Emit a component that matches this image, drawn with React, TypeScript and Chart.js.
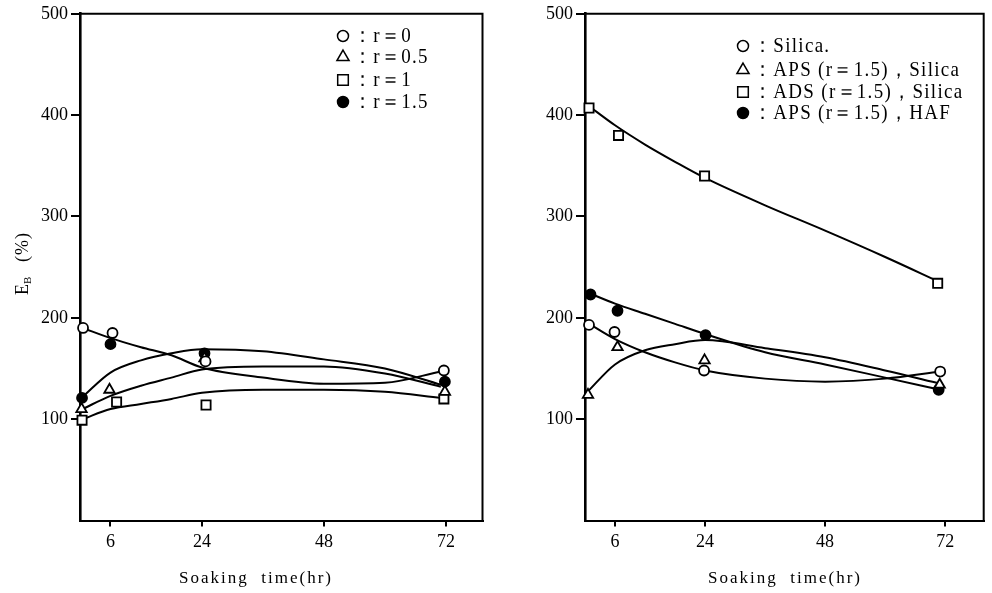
import React, { useEffect, useRef } from 'react';
import { Chart, registerables } from 'chart.js';

Chart.register(...registerables);

// ---------- shared axis data ----------
const X_TICKS = [6, 24, 48, 72];
const Y_TICKS = [100, 200, 300, 400, 500];
const X_TITLE = 'Soaking  time(hr)';

// ---------- left panel: markers ----------
const L_R0_T = [0.6, 6.4, 24.7, 71.6];
const L_R0_V = [190, 185, 157, 148];
const L_R05_T = [0.3, 5.8, 24.5, 71.8];
const L_R05_V = [110, 129, 160, 127];
const L_R1_T = [0.4, 7.2, 24.8, 71.6];
const L_R1_V = [99, 117, 114, 120];
const L_R15_T = [0.4, 6.0, 24.5, 71.8];
const L_R15_V = [121, 174, 165, 137];

// ---------- left panel: fitted curves ----------
const L_CURVE_T = [0.5, 6, 12, 18, 24, 36, 48, 60, 71];
const L_R0_CURVE = [190, 180, 171, 163, 151, 141, 135, 136, 147];
const L_R05_CURVE = [110, 123, 133, 141, 149, 152, 152, 145, 132];
const L_R1_CURVE = [100, 110, 115, 120, 126, 129, 129, 127, 121];
const L_R15_CURVE = [122, 146, 158, 165, 169, 167, 159, 150, 134];

const L_LABELS = ['：r＝0', '：r＝0.5', '：r＝1', '：r＝1.5'];

// ---------- right panel: markers ----------
const R_SIL_T = [0.8, 5.9, 23.8, 71];
const R_SIL_V = [193, 186, 148, 147];
const R_APS_T = [0.6, 6.5, 23.9, 70.9];
const R_APS_V = [124, 171, 158, 134];
const R_ADS_T = [0.8, 6.7, 23.9, 70.5];
const R_ADS_V = [407, 380, 340, 234];
const R_HAF_T = [1.1, 6.5, 24.1, 70.7];
const R_HAF_V = [223, 207, 183, 129];

// ---------- right panel: fitted curves ----------
const R_CURVE_T = [0.5, 6, 12, 18, 24, 36, 48, 60, 71];
const R_SIL_CURVE = [195, 179, 166, 156, 148, 140, 137, 140, 147];
const R_APS_CURVE = [127, 154, 168, 174, 178, 170, 161, 148, 135];
const R_ADS_CURVE = [410, 390, 371, 354, 338, 311, 286, 260, 235];
const R_HAF_CURVE = [225, 214, 204, 194, 184, 166, 154, 141, 129];

const R_LABELS = ['：Silica.', '：APS (r＝1.5)，Silica', '：ADS (r＝1.5)，Silica', '：APS (r＝1.5)，HAF'];

type Marker = { style: 'circle' | 'triangle' | 'rect'; filled: boolean; radius: number };
const MARKERS: Marker[] = [
  { style: 'circle', filled: false, radius: 5 },
  { style: 'triangle', filled: false, radius: 6 },
  { style: 'rect', filled: false, radius: 6.5 },
  { style: 'circle', filled: true, radius: 5 },
];

const SERIF = '"Liberation Serif", "DejaVu Serif", serif';

const pts = (t: number[], v: number[]) => t.map((x, i) => ({ x, y: v[i] }));

function curveDs(t: number[], v: number[]) {
  return {
    data: pts(t, v),
    borderColor: '#000',
    borderWidth: 2,
    pointRadius: 0,
    cubicInterpolationMode: 'monotone',
    fill: false,
    order: 2,
  };
}

function markerDs(t: number[], v: number[], m: Marker) {
  return {
    data: pts(t, v),
    showLine: false,
    pointStyle: m.style,
    pointRadius: m.radius,
    pointBackgroundColor: m.filled ? '#000' : '#fff',
    pointBorderColor: '#000',
    pointBorderWidth: 1.8,
    clip: false,
    order: 1,
  };
}

function drawMarker(ctx: CanvasRenderingContext2D, x: number, y: number, m: Marker) {
  ctx.save();
  ctx.beginPath();
  const r = m.radius;
  if (m.style === 'circle') {
    ctx.arc(x, y, r, 0, Math.PI * 2);
  } else if (m.style === 'triangle') {
    for (let k = 0; k < 3; k++) {
      const a = -Math.PI / 2 + (k * 2 * Math.PI) / 3;
      const px = x + Math.cos(a) * r;
      const py = y + Math.sin(a) * r;
      if (k === 0) ctx.moveTo(px, py);
      else ctx.lineTo(px, py);
    }
    ctx.closePath();
  } else {
    const s = Math.SQRT1_2 * r;
    ctx.rect(x - s, y - s, 2 * s, 2 * s);
  }
  ctx.fillStyle = m.filled ? '#000' : '#fff';
  ctx.fill();
  ctx.lineWidth = 1.5;
  ctx.strokeStyle = '#000';
  ctx.stroke();
  ctx.restore();
}

type PanelCfg = {
  yWidth: number;
  padRight: number;
  xMax: number;
  datasets: any[];
  labels: string[];
  legendX: number;
  legendY: number[];
  titleX: number;
  showYTitle: boolean;
};

function makeChart(canvas: HTMLCanvasElement, cfg: PanelCfg) {
  const decor = {
    id: 'decor',
    afterDraw(chart: any) {
      const ctx: CanvasRenderingContext2D = chart.ctx;
      const a = chart.chartArea;
      ctx.save();
      // frame top & right
      ctx.strokeStyle = '#000';
      ctx.lineWidth = 2;
      ctx.beginPath();
      ctx.moveTo(a.left, a.top);
      ctx.lineTo(a.right, a.top);
      ctx.lineTo(a.right, a.bottom);
      ctx.stroke();

      // x title
      ctx.fillStyle = '#000';
      ctx.font = `17px ${SERIF}`;
      (ctx as any).letterSpacing = '2px';
      ctx.textAlign = 'center';
      ctx.textBaseline = 'middle';
      ctx.fillText(X_TITLE, cfg.titleX, 579);

      // y title with subscript
      if (cfg.showYTitle) {
        ctx.save();
        ctx.translate(23, 295);
        ctx.rotate(-Math.PI / 2);
        (ctx as any).letterSpacing = '0px';
        ctx.textAlign = 'left';
        ctx.textBaseline = 'middle';
        ctx.font = `18px ${SERIF}`;
        ctx.fillText('E', 0, 0);
        const wE = ctx.measureText('E').width;
        ctx.font = `11px ${SERIF}`;
        ctx.fillText('B', wE, 5);
        ctx.font = `18px ${SERIF}`;
        (ctx as any).letterSpacing = '1px';
        ctx.fillText('(%)', 33, 0);
        ctx.restore();
      }

      // legend
      (ctx as any).letterSpacing = '1.3px';
      ctx.font = `19px ${SERIF}`;
      ctx.textAlign = 'left';
      ctx.textBaseline = 'middle';
      cfg.labels.forEach((lab, i) => {
        const y = cfg.legendY[i];
        drawMarker(ctx, cfg.legendX, y, {
          ...MARKERS[i],
          radius: MARKERS[i].style === 'rect' ? 7.5 : MARKERS[i].style === 'triangle' ? 7 : 5.5,
        });
        ctx.fillStyle = '#000';
        ctx.save();
        ctx.translate(cfg.legendX + 10, y + 1);
        ctx.scale(1, 1.1);
        ctx.fillText(lab, 0, 0);
        ctx.restore();
      });
      ctx.restore();
    },
  };

  const tickFont = { family: SERIF, size: 18 };

  return new Chart(canvas, {
    type: 'line',
    data: { datasets: cfg.datasets },
    options: {
      responsive: false,
      animation: false,
      devicePixelRatio: 1,
      layout: { padding: { left: 0, right: cfg.padRight, top: 13, bottom: 0 } },
      plugins: { legend: { display: false }, tooltip: { enabled: false } },
      scales: {
        x: {
          type: 'linear',
          min: 0,
          max: cfg.xMax,
          afterBuildTicks: (s: any) => {
            s.ticks = X_TICKS.map((v) => ({ value: v }));
          },
          afterFit: (s: any) => {
            s.height = 72.5;
          },
          ticks: { color: '#000', font: tickFont, padding: 5, maxRotation: 0, autoSkip: false },
          grid: { drawOnChartArea: false, drawTicks: true, tickLength: 6, color: '#000', lineWidth: 2 },
          border: { display: true, color: '#000', width: 2 },
        },
        y: {
          type: 'linear',
          min: 0,
          max: 500,
          afterBuildTicks: (s: any) => {
            s.ticks = Y_TICKS.map((v) => ({ value: v }));
          },
          afterFit: (s: any) => {
            s.width = cfg.yWidth;
          },
          ticks: { color: '#000', font: tickFont, padding: 3, autoSkip: false },
          grid: { drawOnChartArea: false, drawTicks: true, tickLength: 9, color: '#000', lineWidth: 2 },
          border: { display: true, color: '#000', width: 2.6 },
        },
      },
    },
    plugins: [decor],
  } as any);
}

export default function App() {
  const leftRef = useRef<HTMLCanvasElement>(null);
  const rightRef = useRef<HTMLCanvasElement>(null);

  useEffect(() => {
    const left = makeChart(leftRef.current!, {
      yWidth: 80,
      padRight: 13.5,
      xMax: 79.2,
      datasets: [
        curveDs(L_CURVE_T, L_R0_CURVE),
        curveDs(L_CURVE_T, L_R05_CURVE),
        curveDs(L_CURVE_T, L_R1_CURVE),
        curveDs(L_CURVE_T, L_R15_CURVE),
        markerDs(L_R0_T, L_R0_V, MARKERS[0]),
        markerDs(L_R05_T, L_R05_V, MARKERS[1]),
        markerDs(L_R1_T, L_R1_V, MARKERS[2]),
        markerDs(L_R15_T, L_R15_V, MARKERS[3]),
      ],
      labels: L_LABELS,
      legendX: 343,
      legendY: [36, 57, 80, 102],
      titleX: 256,
      showYTitle: true,
    });
    const right = makeChart(rightRef.current!, {
      yWidth: 89,
      padRight: 1.3,
      xMax: 79.7,
      datasets: [
        curveDs(R_CURVE_T, R_SIL_CURVE),
        curveDs(R_CURVE_T, R_APS_CURVE),
        curveDs(R_CURVE_T, R_ADS_CURVE),
        curveDs(R_CURVE_T, R_HAF_CURVE),
        markerDs(R_SIL_T, R_SIL_V, MARKERS[0]),
        markerDs(R_APS_T, R_APS_V, MARKERS[1]),
        markerDs(R_ADS_T, R_ADS_V, MARKERS[2]),
        markerDs(R_HAF_T, R_HAF_V, MARKERS[3]),
      ],
      labels: R_LABELS,
      legendX: 743 - 496,
      legendY: [46, 70, 92, 113],
      titleX: 785 - 496,
      showYTitle: false,
    });
    return () => {
      left.destroy();
      right.destroy();
    };
  }, []);

  return (
    <div style={{ position: 'fixed', left: 0, top: 0, width: 992, height: 593, background: '#fff' }}>
      <canvas ref={leftRef} width={496} height={593} style={{ position: 'absolute', left: 0, top: 0 }} />
      <canvas ref={rightRef} width={496} height={593} style={{ position: 'absolute', left: 496, top: 0 }} />
    </div>
  );
}
